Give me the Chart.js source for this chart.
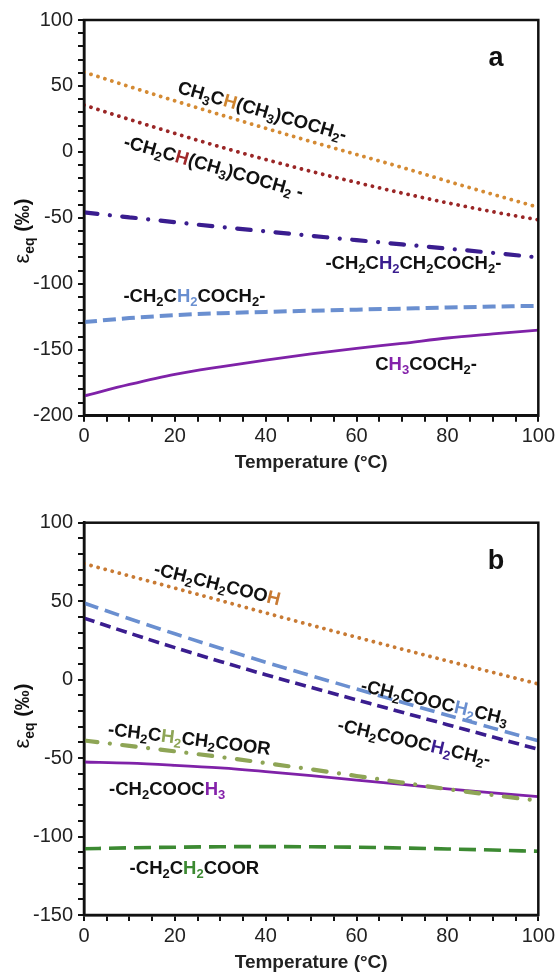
<!DOCTYPE html>
<html>
<head>
<meta charset="utf-8">
<script src="https://cdn.jsdelivr.net/npm/chart.js@4.4.0/dist/chart.umd.min.js"></script>
<style>
html,body{margin:0;padding:0;background:#fff;}
#wrap{position:relative;width:558px;height:975px;overflow:hidden;}
canvas{position:absolute;left:0;}
#ca{top:0;} #cb{top:487px;}
</style>
</head>
<body>
<div id="wrap">
  <canvas id="ca" width="558" height="487"></canvas>
  <canvas id="cb" width="558" height="488"></canvas>
</div>
<script>
const FONT = '"Liberation Sans", Arial, Helvetica, sans-serif';

// temperature grid (°C)
const temps = [0, 10, 20, 30, 40, 50, 60, 70, 80, 90, 100];

// panel a - ketones
const a_isoCH   = [60.5, 49.5, 38.7, 28.2, 17.9, 7.8, -2.0, -11.8, -22.2, -32.2, -42.0];
const a_secCH   = [35.5, 24.6, 14.0, 3.8, -5.8, -14.8, -23.2, -31.2, -38.6, -45.4, -51.5];
const a_pentCH2 = [-45.9, -49.6, -53.3, -56.9, -60.3, -63.6, -66.9, -70.1, -73.3, -76.6, -80.0];
const a_butCH2  = [-129.0, -126.0, -123.8, -122.3, -121.3, -120.4, -119.6, -118.8, -118.0, -117.3, -116.7];
const a_methyl  = [-185.0, -176.3, -168.6, -162.9, -157.8, -153.2, -148.9, -145.2, -141.1, -138.0, -135.1];

// panel b - acids / esters
const b_acidH   = [73.9, 66.1, 58.3, 50.4, 42.5, 34.7, 27.0, 19.4, 11.9, 4.6, -2.8];
const b_ethCH2  = [48.8, 38.8, 29.2, 20.0, 11.1, 2.5, -6.0, -14.4, -22.7, -30.9, -39.0];
const b_ethCH2b = [39.2, 29.6, 20.4, 11.6, 3.1, -5.0, -12.9, -20.8, -28.7, -36.6, -44.4];
const b_butCH2  = [-38.8, -42.2, -45.7, -49.3, -53.2, -57.2, -61.4, -65.6, -69.8, -73.6, -77.2];
const b_methyl  = [-52.5, -53.2, -54.6, -56.3, -58.6, -61.2, -64.0, -66.8, -69.6, -72.2, -74.6];
const b_propCH2 = [-107.8, -107.2, -106.8, -106.5, -106.4, -106.5, -106.8, -107.3, -107.9, -108.6, -109.4];

// axis ranges
const yA = {min: -200, max: 100};
const yB = {min: -150, max: 100};

// annotation labels: _x = subscript, [..] = coloured part
const labelsA = [
  {text: 'CH_3C[H](CH_3)COCH_2-', x: 39.3, y: 31.5, angle: 16, color: '#cf8530'},
  {text: '-CH_2C[H](CH_3)COCH_2 -', x: 28.6, y: -10.8, angle: 16, color: '#a0282a'},
  {text: '-CH_2C[H_2]CH_2COCH_2-', x: 72.5, y: -83.6, angle: 0, color: '#3a1d8f'},
  {text: '-CH_2C[H_2]COCH_2-', x: 24.3, y: -108.6, angle: 0, color: '#6a8fd0'},
  {text: 'C[H_3]COCH_2-', x: 75.3, y: -160, angle: 0, color: '#8422aa'}
];
const labelsB = [
  {text: '-CH_2CH_2COO[H]', x: 29.4, y: 61.3, angle: 14, color: '#c87a33'},
  {text: '-CH_2COOC[H_2]CH_3', x: 77.2, y: -13.9, angle: 13, color: '#6a8fd0'},
  {text: '-CH_2COOC[H_2]CH_2-', x: 72.7, y: -39.4, angle: 13, color: '#3a1d8f'},
  {text: '-CH_2C[H_2]CH_2COOR', x: 23.2, y: -37.4, angle: 7, color: '#8ea556'},
  {text: '-CH_2COOC[H_3]', x: 18.3, y: -69.2, angle: 0, color: '#8422aa'},
  {text: '-CH_2C[H_2]COOR', x: 24.3, y: -119.5, angle: 0, color: '#3c8a32'}
];

const pts = arr => arr.map((v, i) => ({x: temps[i], y: v}));

function parseRich(s){
  const out = []; let hl = false;
  for(let i=0;i<s.length;i++){
    const c = s[i];
    if(c==='['){hl=true;continue;}
    if(c===']'){hl=false;continue;}
    if(c==='_'){ out.push({t:s[++i], sub:true, hl}); continue; }
    const last = out[out.length-1];
    if(last && !last.sub && last.hl===hl) last.t += c; else out.push({t:c, sub:false, hl});
  }
  return out;
}

function drawRich(ctx, lab, px, py){
  const fs = lab.size || 18.5;
  const big = 'bold '+fs+'px '+FONT, small = 'bold '+Math.round(fs*0.72)+'px '+FONT;
  const segs = parseRich(lab.text);
  let w = 0;
  segs.forEach(s=>{ ctx.font = s.sub?small:big; s.w = ctx.measureText(s.t).width; w += s.w; });
  ctx.save();
  ctx.translate(px, py);
  ctx.rotate((lab.angle||0)*Math.PI/180);
  ctx.textAlign = 'left'; ctx.textBaseline = 'alphabetic';
  let x = -w/2; const base = fs*0.36;
  segs.forEach(s=>{
    ctx.font = s.sub?small:big;
    ctx.fillStyle = s.hl ? lab.color : '#111';
    ctx.fillText(s.t, x, base + (s.sub ? fs*0.22 : 0));
    x += s.w;
  });
  ctx.restore();
}

const decor = {
  id: 'decor',
  afterDatasetsDraw(chart, args, opts){
    const ctx = chart.ctx, ca = chart.chartArea;
    const xs = chart.scales.x, ys = chart.scales.y;
    ctx.save();
    ctx.strokeStyle = '#111'; ctx.lineWidth = 2.5;
    ctx.strokeRect(ca.left, ca.top, ca.right-ca.left, ca.bottom-ca.top);
    ctx.restore();
    (opts.labels||[]).forEach(l => drawRich(ctx, l, xs.getPixelForValue(l.x), ys.getPixelForValue(l.y)));
    // panel letter
    ctx.save();
    ctx.font = 'bold 27px '+FONT; ctx.fillStyle = '#111';
    ctx.textAlign = 'center'; ctx.textBaseline = 'middle';
    ctx.fillText(opts.letter, xs.getPixelForValue(90.7), ys.getPixelForValue(opts.letterY));
    ctx.restore();
    // y axis title
    ctx.save();
    ctx.translate(opts.titleX, opts.titleY);
    ctx.rotate(-Math.PI/2);
    const parts = [
      {t:'ε', f:'22px '+FONT, dy:0},
      {t:'eq', f:'bold 14px '+FONT, dy:5},
      {t:' (‰)', f:'bold 20px '+FONT, dy:0}
    ];
    let w = 0;
    parts.forEach(p=>{ ctx.font=p.f; p.w=ctx.measureText(p.t).width; w+=p.w; });
    let x = -w/2;
    ctx.fillStyle = '#111'; ctx.textBaseline='alphabetic'; ctx.textAlign='left';
    parts.forEach(p=>{ ctx.font=p.f; ctx.fillText(p.t, x, 7+p.dy); x+=p.w; });
    ctx.restore();
  }
};

function makeChart(id, datasets, yr, labels, cfg){
  return new Chart(document.getElementById(id), {
    type: 'line',
    data: {datasets},
    plugins: [decor],
    options: {
      responsive: false,
      animation: false,
      devicePixelRatio: 1,
      layout: {padding: {left: 0, right: 13, top: cfg.top, bottom: 0}},
      elements: {point: {radius: 0}, line: {cubicInterpolationMode: 'monotone'}},
      plugins: {
        legend: {display: false}, tooltip: {enabled: false},
        decor: {labels, letter: cfg.letter, letterY: cfg.letterY, titleX: 22, titleY: cfg.titleY}
      },
      scales: {
        x: {
          type: 'linear', min: 0, max: 100,
          afterFit: s => { s.height = cfg.xh; },
          ticks: {stepSize: 5, autoSkip: false, maxRotation: 0, padding: 3,
                  font: {size: 20, family: FONT}, color: '#222',
                  callback: v => (Math.round(v) % 20 === 0 ? String(Math.round(v)) : '')},
          grid: {drawOnChartArea: false, drawTicks: true, tickLength: 6, color: '#111', lineWidth: 2},
          border: {display: true, color: '#111', width: 2.5},
          title: {display: true, text: 'Temperature (°C)', color: '#222',
                  font: {size: 19, weight: 'bold', family: FONT}, padding: {top: 0, bottom: cfg.tpad}}
        },
        y: {
          type: 'linear', min: yr.min, max: yr.max,
          afterFit: s => { s.width = 84; },
          ticks: {stepSize: 10, autoSkip: false, padding: 5,
                  font: {size: 20, family: FONT}, color: '#222',
                  callback: v => (Math.round(v) % 50 === 0 ? String(Math.round(v)) : '')},
          grid: {drawOnChartArea: false, drawTicks: true, tickLength: 6, color: '#111', lineWidth: 2},
          border: {display: true, color: '#111', width: 2.5}
        }
      }
    }
  });
}

const dotted = (data, color) => ({data: pts(data), borderColor: color, borderWidth: 3.8, borderDash: [0.01, 7.3], borderCapStyle: 'round'});
const dashed = (data, color, dash, w) => ({data: pts(data), borderColor: color, borderWidth: w, borderDash: dash, borderCapStyle: 'butt'});
const dashDot = (data, color) => ({data: pts(data), borderColor: color, borderWidth: 4.2, borderDash: [13.5, 12.5, 0.01, 12.5], borderCapStyle: 'round'});
const solid = (data, color) => ({data: pts(data), borderColor: color, borderWidth: 2.8});

makeChart('ca', [
  dotted(a_isoCH, '#d48a33'),
  dotted(a_secCH, '#9a2626'),
  dashDot(a_pentCH2, '#3a1d8f'),
  dashed(a_butCH2, '#6a8fd0', [13, 6], 4),
  solid(a_methyl, '#7f22a8')
], yA, labelsA, {top: 20, xh: 71.3, tpad: 12.5, letter: 'a', letterY: 71, titleY: 231});

makeChart('cb', [
  dotted(b_acidH, '#c87a33'),
  dashed(b_ethCH2, '#6a8fd0', [15, 7], 3.6),
  dashed(b_ethCH2b, '#3a1d8f', [11, 6], 3.6),
  dashDot(b_butCH2, '#8ea556'),
  solid(b_methyl, '#7f22a8'),
  dashed(b_propCH2, '#3c8a32', [17, 8], 3.6)
], yB, labelsB, {top: 35.7, xh: 60, tpad: 0.6, letter: 'b', letterY: 75, titleY: 229});
</script>
</body>
</html>
